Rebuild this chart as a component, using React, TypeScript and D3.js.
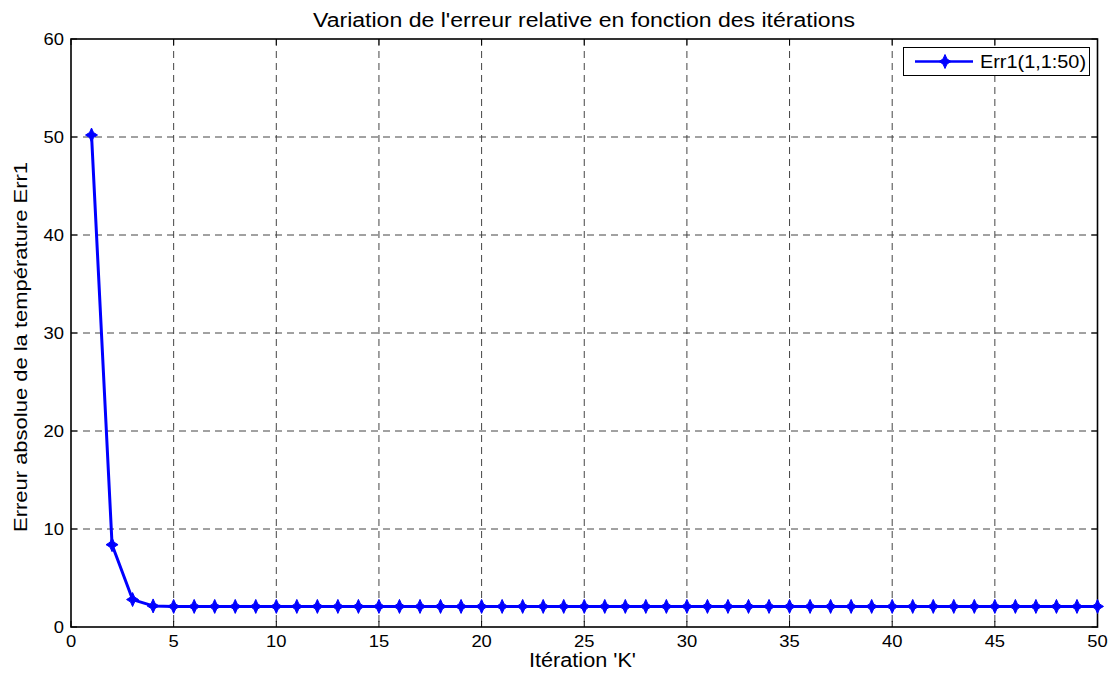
import React from "react";
import * as d3 from "d3";

const iterations: number[] = Array.from({ length: 50 }, (_, i) => i + 1);
const errValues: number[] = [
  50.2, 8.4, 2.8, 2.15, 2.1, 2.1, 2.1, 2.1, 2.1, 2.1,
  2.1, 2.1, 2.1, 2.1, 2.1, 2.1, 2.1, 2.1, 2.1, 2.1,
  2.1, 2.1, 2.1, 2.1, 2.1, 2.1, 2.1, 2.1, 2.1, 2.1,
  2.1, 2.1, 2.1, 2.1, 2.1, 2.1, 2.1, 2.1, 2.1, 2.1,
  2.1, 2.1, 2.1, 2.1, 2.1, 2.1, 2.1, 2.1, 2.1, 2.1,
];
const xTicks: number[] = [0, 5, 10, 15, 20, 25, 30, 35, 40, 45, 50];
const yTicks: number[] = [0, 10, 20, 30, 40, 50, 60];
const titleText = "Variation de l'erreur relative en fonction des itérations";
const xLabel = "Itération 'K'";
const yLabel = "Erreur absolue de la température Err1";
const legendLabel = "Err1(1,1:50)";

const W = 1118;
const H = 677;
const left = 71;
const right = 1097.5;
const top = 39;
const bottom = 627;
const font = "'Liberation Sans', Arial, sans-serif";

function Marker({ x, y }: { x: number; y: number }) {
  return (
    <g transform={`translate(${x},${y})`}>
      <path d="M0,-7 L2,-2.5 L6,0 L2,2.5 L0,7 L-2,2.5 L-6,0 L-2,-2.5 Z" fill="#0000ff" stroke="#0000ff" strokeWidth={1} />
    </g>
  );
}

export default function App() {
  const xs = d3.scaleLinear().domain([0, 50]).range([left, right]);
  const ys = d3.scaleLinear().domain([0, 60]).range([bottom, top]);
  const line = d3
    .line<number>()
    .x((_, i) => xs(iterations[i]))
    .y((d) => ys(d));
  const pts = errValues.map((v, i) => ({ x: xs(iterations[i]), y: ys(v) }));

  return (
    <svg width={W} height={H} style={{ position: "absolute", left: 0, top: 0, background: "#fff" }} fontFamily={font}>
      <rect x={0} y={0} width={W} height={H} fill="#fff" />
      {/* grid */}
      {xTicks.slice(1, -1).map((t) => (
        <line key={"gx" + t} x1={xs(t)} x2={xs(t)} y1={top} y2={bottom} stroke="#444" strokeWidth={1} strokeDasharray="7,5" />
      ))}
      {yTicks.slice(1, -1).map((t) => (
        <line key={"gy" + t} x1={left} x2={right} y1={ys(t)} y2={ys(t)} stroke="#444" strokeWidth={1} strokeDasharray="7,5" />
      ))}
      {/* ticks */}
      {xTicks.map((t) => (
        <g key={"tx" + t}>
          <line x1={xs(t)} x2={xs(t)} y1={bottom} y2={bottom - 6} stroke="#000" />
          <line x1={xs(t)} x2={xs(t)} y1={top} y2={top + 6} stroke="#000" />
          <text transform={`translate(${xs(t)},${bottom + 20}) scale(1.15,1)`} textAnchor="middle" fontSize={16} fill="#000">{t}</text>
        </g>
      ))}
      {yTicks.map((t) => (
        <g key={"ty" + t}>
          <line x1={left} x2={left + 6} y1={ys(t)} y2={ys(t)} stroke="#000" />
          <line x1={right} x2={right - 6} y1={ys(t)} y2={ys(t)} stroke="#000" />
          <text transform={`translate(${left - 7},${ys(t) + 6}) scale(1.15,1)`} textAnchor="end" fontSize={16} fill="#000">{t}</text>
        </g>
      ))}
      {/* axes box */}
      <rect x={left} y={top} width={right - left} height={bottom - top} fill="none" stroke="#000" strokeWidth={1.6} />
      {/* data */}
      <path d={line(errValues) || ""} fill="none" stroke="#0000ff" strokeWidth={3} strokeLinejoin="round" />
      {pts.map((p, i) => (
        <Marker key={i} x={p.x} y={p.y} />
      ))}
      {/* legend */}
      <rect x={903.5} y={47.5} width={186} height={28} fill="#fff" stroke="#000" strokeWidth={1} />
      <line x1={915} x2={973} y1={61.5} y2={61.5} stroke="#0000ff" strokeWidth={2.5} />
      <Marker x={945} y={61.5} />
      <text x={980} y={68} fontSize={18} fill="#000" textLength={106} lengthAdjust="spacingAndGlyphs">{legendLabel}</text>
      {/* labels */}
      <text x={313} y={27} fontSize={20} fill="#000" textLength={542} lengthAdjust="spacingAndGlyphs">{titleText}</text>
      <text x={529} y={667} fontSize={20} fill="#000" textLength={107} lengthAdjust="spacingAndGlyphs">{xLabel}</text>
      <text transform={`translate(27,532) rotate(-90)`} fontSize={19} fill="#000" textLength={370} lengthAdjust="spacingAndGlyphs">{yLabel}</text>
    </svg>
  );
}
